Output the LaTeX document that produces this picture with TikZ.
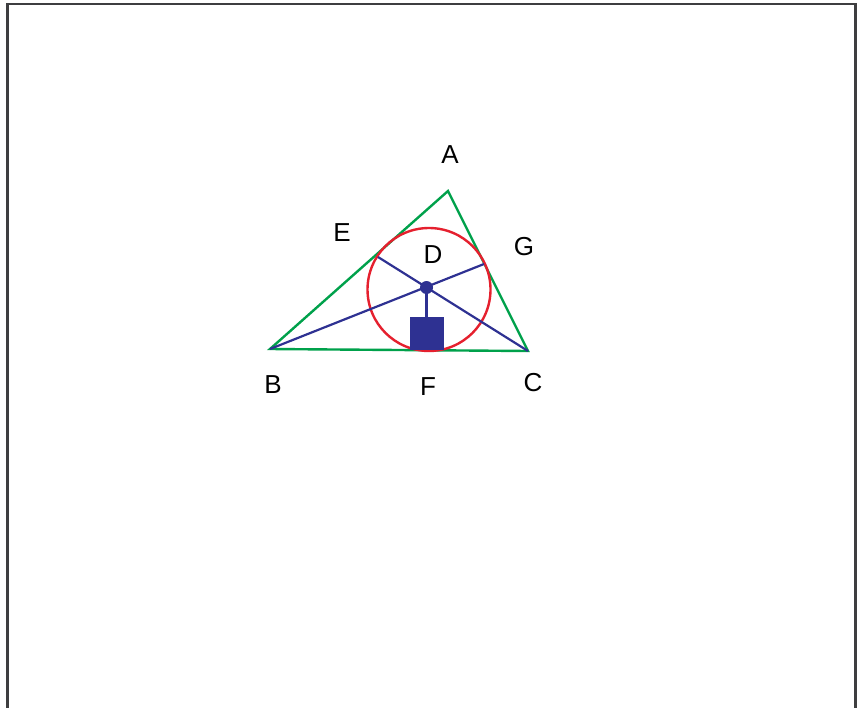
\documentclass[tikz,border=0pt]{standalone}
\usepackage{fontspec}
\setmainfont{Liberation Sans}
\usetikzlibrary{positioning}

\definecolor{frameGray}{HTML}{3E3E40}
\definecolor{triGreen}{HTML}{00A14B}
\definecolor{inRed}{HTML}{E5202E}
\definecolor{axBlue}{HTML}{2E3192}

\begin{document}
\begin{tikzpicture}[x=1pt, y=-1pt, font=\fontsize{26}{30}\selectfont,
  tri/.style={draw=triGreen, line width=2.4pt, line join=miter},
  axis/.style={draw=axBlue, line width=2.2pt},
  lbl/.style={inner sep=0pt, anchor=center}]
  \useasboundingbox (0,0) rectangle (858,707);
  \clip (0,0) rectangle (858,707);
  \draw[frameGray, line width=2.6pt] (7.5,4) rectangle (855.5,740);

  % triangle corners and where the lines meet the circle
  \coordinate (A) at (448,191);
  \coordinate (B) at (270,349);
  \coordinate (C) at (528,351);
  \coordinate (gE) at (378,257);
  \coordinate (gG) at (484,264);

  \draw[tri] (A) -- (B) -- (C) -- cycle;
  \draw[inRed, line width=2.4pt] (429,289.5) circle (61.5);
  \draw[axis] (B) -- (gG);
  \draw[axis] (C) -- (gE);
  \node[circle, fill=axBlue, inner sep=0pt, minimum size=13pt] (D) at (426.5,287.5) {};
  \node[rectangle, fill=axBlue, inner sep=0pt, minimum width=34pt,
    minimum height=33pt, anchor=south] (sq) at (426.5,350.5) {};
  \draw[axis] (D) -- (sq);

  % letters
  \node[lbl] (lA) at (450,155) {A};
  \node[lbl] (lE) at (342,233) {E};
  \node[lbl] (lD) at (433,255) {D};
  \node[lbl] (lG) at (524,247) {G};
  \node[lbl] (lB) at (273,385) {B};
  \node[lbl] (lF) at (428,387) {F};
  \node[lbl] (lC) at (533,383) {C};
\end{tikzpicture}
\end{document}
